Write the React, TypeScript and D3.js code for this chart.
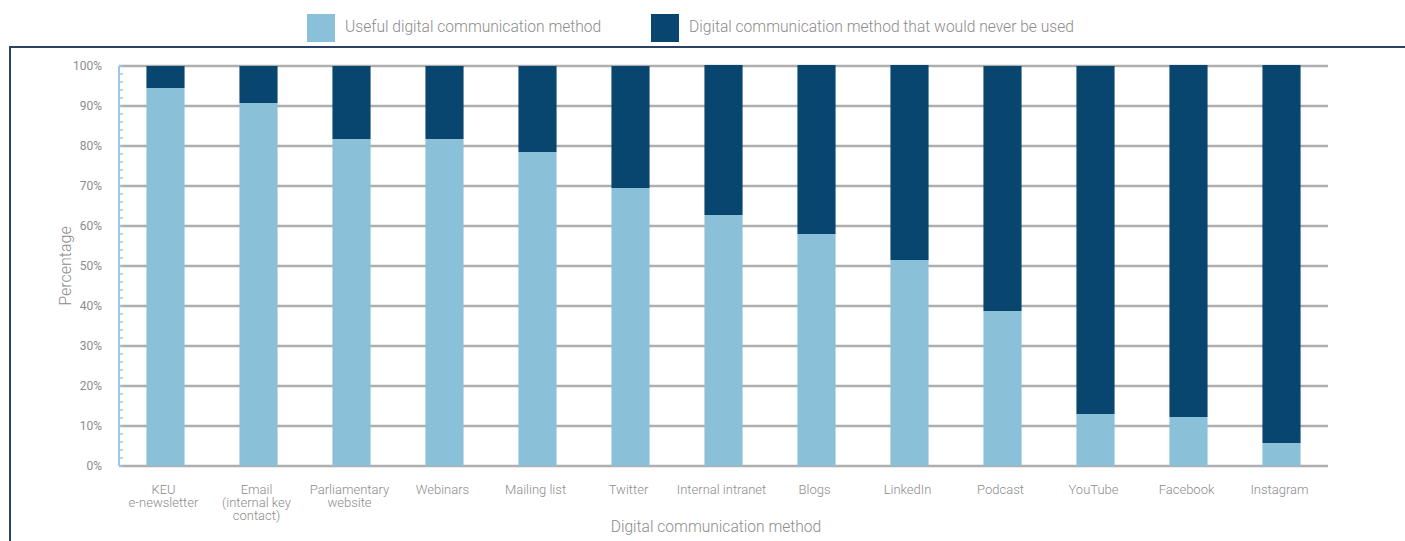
import React from "react";
import * as d3 from "d3";

const categories: string[][] = [
  ["KEU", "e-newsletter"],
  ["Email", "(internal key", "contact)"],
  ["Parliamentary", "website"],
  ["Webinars"],
  ["Mailing list"],
  ["Twitter"],
  ["Internal intranet"],
  ["Blogs"],
  ["LinkedIn"],
  ["Podcast"],
  ["YouTube"],
  ["Facebook"],
  ["Instagram"],
];
const useful = [94.5, 90.75, 81.75, 81.75, 78.5, 69.5, 62.75, 58, 51.5, 38.75, 13, 12.25, 5.75];
const never = [5.5, 9.25, 18.25, 18.25, 21.5, 30.5, 37.5, 42.25, 48.75, 61.25, 87, 88, 94.5];
const yTicks = [0, 10, 20, 30, 40, 50, 60, 70, 80, 90, 100];
const minorTicks = d3.range(0, 101, 2);
const seriesNames = ["Useful digital communication method", "Digital communication method that would never be used"];
const colors = ["#8bc1d8", "#084670"];

export default function App() {
  const W = 1405, H = 541;
  const left = 119, right = 1328, top = 66, bottom = 466;
  const x = d3.scaleBand<number>().domain(d3.range(categories.length)).range([left, right]).paddingInner(0.59).paddingOuter(0.295);
  const y = d3.scaleLinear().domain([0, 100]).range([bottom, top]);
  const font = "Roboto, 'Noto Sans', sans-serif";
  const textColor = "#8c8c8c";
  return (
    <svg width={W} height={H} style={{ position: "absolute", left: 0, top: 0 }}>
      <rect width={W} height={H} fill="#fff" />
      {/* legend */}
      <rect x={307} y={14} width={28} height={28} fill={colors[0]} />
      <text x={345} y={32} fontSize={15.6} fill={textColor} fontFamily={font} fontWeight={300}>{seriesNames[0]}</text>
      <rect x={651} y={14} width={28} height={28} fill={colors[1]} />
      <text x={689} y={32} fontSize={15.6} fill={textColor} fontFamily={font} fontWeight={300}>{seriesNames[1]}</text>
      {/* frame */}
      <path d={`M10,${H + 5} V47 H${W + 5}`} fill="none" stroke="#2c4163" strokeWidth={2} />
      {/* gridlines */}
      {yTicks.map((t) => (
        <g key={t}>
          <line x1={left} x2={right} y1={y(t)} y2={y(t)} stroke="#d6d6d6" strokeWidth={3} />
          <line x1={left} x2={right} y1={y(t)} y2={y(t)} stroke="#a2a2a2" strokeWidth={1.5} />
          <text x={102} y={y(t) + 4} textAnchor="end" fontSize={12} fill={textColor} fontFamily={font}>{t}%</text>
        </g>
      ))}
      {/* bars */}
      {categories.map((c, i) => (
        <g key={i}>
          <rect x={x(i)} y={y(useful[i])} width={x.bandwidth()} height={y(0) - y(useful[i])} fill={colors[0]} />
          <rect x={x(i)} y={y(useful[i] + never[i])} width={x.bandwidth()} height={y(useful[i]) - y(useful[i] + never[i])} fill={colors[1]} />
          <text textAnchor="middle" fontSize={13} fill={textColor} fontFamily={font} fontWeight={300}>
            {c.map((line, j) => (
              <tspan key={j} x={(x(i) as number) + x.bandwidth() / 2 - 2} y={494 + j * 13}>{line}</tspan>
            ))}
          </text>
        </g>
      ))}
      {/* left axis */}
      <line x1={left} x2={left} y1={top} y2={bottom} stroke="#9cc6ea" strokeWidth={2} />
      {minorTicks.map((t) => (
        <line key={t} x1={left} x2={left + 4} y1={y(t)} y2={y(t)} stroke="#9cc6ea" strokeWidth={1.5} />
      ))}
      <text transform={`translate(71,266) rotate(-90)`} textAnchor="middle" fontSize={16} fill={textColor} fontFamily={font} fontWeight={300}>Percentage</text>
      <text x={716} y={532} textAnchor="middle" fontSize={15.6} fill={textColor} fontFamily={font} fontWeight={300}>Digital communication method</text>
    </svg>
  );
}
